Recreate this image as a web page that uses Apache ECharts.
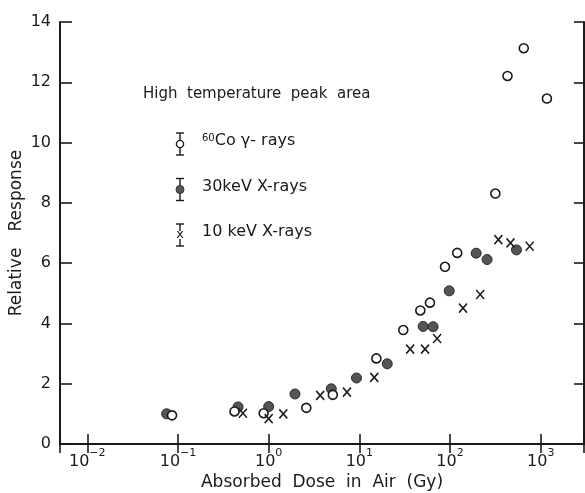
<!DOCTYPE html>
<html>
<head>
<meta charset="utf-8">
<script src="https://cdn.jsdelivr.net/npm/echarts@6/dist/echarts.min.js"></script>
<style>
  html, body { margin: 0; padding: 0; background: #fff; }
  #chart { width: 585px; height: 493px; }
</style>
</head>
<body>
<div id="chart"></div>
<script>
// dose (Gy) and relative response
const coDose = [0.086, 0.42, 0.88, 2.6, 5.1, 15.4, 30.5, 47, 60, 88, 120, 316, 430, 650, 1170]
const coResp = [0.95, 1.08, 1.02, 1.2, 1.63, 2.84, 3.78, 4.43, 4.69, 5.88, 6.34, 8.31, 12.21, 13.13, 11.46]

const kev30Dose = [0.075, 0.46, 1.0, 1.95, 4.9, 9.3, 20.3, 50.5, 65, 98, 194, 256, 540]
const kev30Resp = [1.0, 1.23, 1.24, 1.66, 1.83, 2.19, 2.66, 3.9, 3.89, 5.08, 6.33, 6.12, 6.44]

const kev10Dose = [0.52, 1.0, 1.45, 3.7, 7.3, 14.6, 36.3, 53, 72, 139, 215, 341, 464, 755]
const kev10Resp = [1.02, 0.84, 1.0, 1.61, 1.72, 2.21, 3.15, 3.15, 3.5, 4.51, 4.96, 6.78, 6.67, 6.56]

const xTickPowers = [-2, -1, 0, 1, 2, 3]
const yTicks = [0, 2, 4, 6, 8, 10, 12, 14]

const legendTitle = 'High  temperature  peak  area'
const legendItems = ['{sup|60}Co γ- rays', '30keV X-rays', '10 keV X-rays']

const FONT = 'DejaVu Sans'
const INK = '#1a1a1a'
const crossPath = 'path://M0,0L10,11M10,0L0,11'

const pairs = (xs, ys) => xs.map((x, i) => [x, ys[i]])

const chart = echarts.init(document.getElementById('chart'))

const xLabelFmt = (v) => {
  const p = Math.round(Math.log10(v))
  if (Math.abs(Math.log10(v) - p) > 1e-6 || !xTickPowers.includes(p)) return ''
  return '{b|10}{s|' + (p < 0 ? '−' + (-p) : p) + '}'
}

const baseX = {
  type: 'log',
  logBase: 10,
  min: 0.005,
  max: 3000,
  splitLine: { show: false },
  minorTick: { show: false },
  axisLine: { lineStyle: { color: INK, width: 2 } }
}
const baseY = {
  type: 'value',
  min: yTicks[0],
  max: yTicks[yTicks.length - 1],
  interval: 2,
  splitLine: { show: false },
  axisLine: { show: true, lineStyle: { color: INK, width: 2 } }
}

// legend marks: error bar + symbol, drawn by hand like in the figure
const legendGraphics = [
  {
    type: 'text',
    left: 143,
    top: 87,
    style: { text: legendTitle, font: '15px ' + FONT, fill: INK }
  }
]
legendItems.forEach((label, i) => {
  const cy = 144 + i * 45.5
  const cx = 180
  legendGraphics.push(
    { type: 'line', shape: { x1: cx, y1: cy - 11, x2: cx, y2: cy + 11 }, style: { stroke: INK, lineWidth: 1.4 } },
    { type: 'line', shape: { x1: cx - 4, y1: cy - 11, x2: cx + 4, y2: cy - 11 }, style: { stroke: INK, lineWidth: 1.4 } },
    { type: 'line', shape: { x1: cx - 4, y1: cy + 11, x2: cx + 4, y2: cy + 11 }, style: { stroke: INK, lineWidth: 1.4 } }
  )
  if (i === 0) {
    legendGraphics.push({ type: 'circle', shape: { cx: cx, cy: cy, r: 3.6 }, style: { fill: '#fff', stroke: INK, lineWidth: 1.4 } })
  } else if (i === 1) {
    legendGraphics.push({ type: 'circle', shape: { cx: cx, cy: cy, r: 4 }, style: { fill: '#555', stroke: '#333', lineWidth: 1 } })
  } else {
    legendGraphics.push({ type: 'rect', shape: { x: cx - 3, y: cy - 4, width: 6, height: 8 }, style: { fill: '#fff' } })
    legendGraphics.push({ type: 'text', x: cx, y: cy, style: { text: 'x', font: '13px ' + FONT, fill: INK, align: 'center', verticalAlign: 'middle' } })
  }
  legendGraphics.push({
    type: 'text',
    left: 202,
    top: cy - 11,
    style: {
      text: label,
      font: '16px ' + FONT,
      fill: INK,
      rich: {
        sup: { fontSize: 10, fontFamily: FONT, verticalAlign: 'top', lineHeight: 10, fill: INK }
      }
    }
  })
})

const option = {
  backgroundColor: '#fff',
  animation: false,
  textStyle: { fontFamily: FONT, color: INK },
  grid: { left: 60, right: 1, top: 22, bottom: 49, containLabel: false, outerBoundsMode: 'none' },
  xAxis: [
    {
      ...baseX,
      position: 'bottom',
      axisTick: { inside: true, length: 10, lineStyle: { color: INK, width: 1.6 } },
      axisLabel: {
        margin: 4,
        formatter: xLabelFmt,
        color: INK,
        rich: {
          b: { fontSize: 16, fontFamily: FONT, lineHeight: 22, verticalAlign: 'bottom', color: INK },
          s: { fontSize: 11, fontFamily: FONT, lineHeight: 22, verticalAlign: 'top', color: INK }
        }
      },
      name: 'Absorbed  Dose  in  Air  (Gy)',
      nameLocation: 'middle',
      nameMoveOverlap: false,
      nameGap: 30,
      nameTextStyle: { fontSize: 17, fontFamily: FONT, color: INK }
    },
    {
      ...baseX,
      position: 'top',
      axisTick: { inside: true, length: 9, lineStyle: { color: INK, width: 1.6 } },
      axisLabel: { show: false }
    }
  ],
  yAxis: [
    {
      ...baseY,
      position: 'left',
      axisTick: { inside: true, length: 12, lineStyle: { color: INK, width: 1.6 } },
      axisLabel: { fontSize: 16, fontFamily: FONT, color: INK, margin: 9 },
      name: 'Relative   Response',
      nameLocation: 'middle',
      nameMoveOverlap: false,
      nameGap: 35,
      nameTextStyle: { fontSize: 17, fontFamily: FONT, color: INK }
    },
    {
      ...baseY,
      position: 'right',
      axisTick: { inside: true, length: 10, lineStyle: { color: INK, width: 1.6 } },
      axisLabel: { show: false }
    }
  ],
  series: [
    {
      name: '30keV X-rays',
      type: 'scatter',
      symbol: 'circle',
      symbolSize: 10,
      itemStyle: { color: '#555', borderColor: '#2a2a2a', borderWidth: 1, opacity: 1 },
      data: pairs(kev30Dose, kev30Resp)
    },
    {
      name: '60Co gamma-rays',
      type: 'scatter',
      symbol: 'circle',
      symbolSize: 9,
      itemStyle: { color: '#fff', borderColor: INK, borderWidth: 1.6, opacity: 1 },
      data: pairs(coDose, coResp)
    },
    {
      name: '10 keV X-rays',
      type: 'scatter',
      symbol: crossPath,
      symbolSize: [8, 9],
      itemStyle: { color: 'none', borderColor: INK, borderWidth: 1.6, opacity: 1 },
      data: pairs(kev10Dose, kev10Resp)
    }
  ],
  graphic: legendGraphics
}

chart.setOption(option)
window.addEventListener('resize', () => chart.resize())
</script>
</body>
</html>
